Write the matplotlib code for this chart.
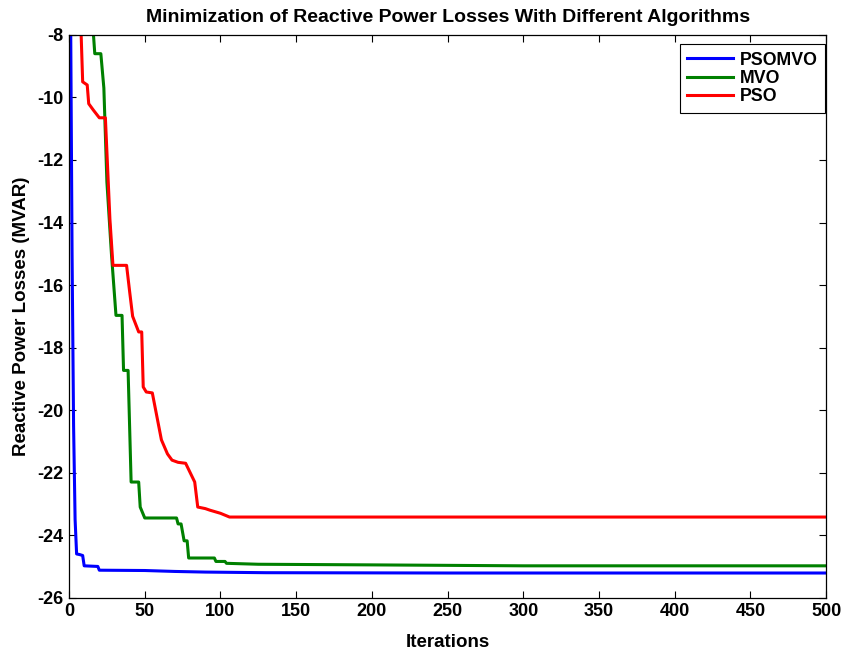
import numpy as np
import matplotlib
matplotlib.use("Agg")
import matplotlib.pyplot as plt

plt.rcParams['font.family'] = ['Liberation Sans', 'DejaVu Sans']
plt.rcParams['font.weight'] = 'bold'
plt.rcParams['axes.unicode_minus'] = False

# iteration / loss pairs
pso_mvo_it = [0, 1, 2, 3, 4, 5, 7, 9, 10, 19, 20, 50, 70, 90, 130, 250, 500]
pso_mvo = [-2, -7, -15, -20.5, -23.5, -24.6, -24.62, -24.65, -24.98, -25.0,
           -25.12, -25.13, -25.16, -25.18, -25.2, -25.21, -25.21]

mvo_it = [0, 10, 16, 17, 21, 23, 25, 28, 31, 35, 36, 39, 41, 46, 47, 50, 71, 72,
          74, 76, 78, 79, 96, 97, 103, 104, 125, 200, 300, 500]
mvo = [-3, -6, -7.9, -8.6, -8.6, -9.7, -12.7, -15.0, -16.97, -16.97, -18.73,
       -18.73, -22.3, -22.3, -23.1, -23.45, -23.45, -23.64, -23.64, -24.18,
       -24.18, -24.73, -24.73, -24.84, -24.84, -24.9, -24.93, -24.95, -24.98, -24.98]

pso_it = [0, 5, 8, 9, 12, 13, 16, 20, 24, 27, 29, 38, 40, 42, 46, 48, 49, 51, 55,
          58, 61, 65, 68, 72, 77, 80, 83, 85, 90, 93, 100, 106, 500]
pso = [-2, -6, -8, -9.5, -9.6, -10.2, -10.4, -10.65, -10.65, -13.9, -15.37,
       -15.37, -16.2, -17.0, -17.5, -17.5, -19.26, -19.42, -19.45, -20.2, -20.95,
       -21.4, -21.6, -21.67, -21.7, -22.0, -22.3, -23.1, -23.15, -23.2, -23.3,
       -23.42, -23.42]

fig = plt.figure(figsize=(8.44, 6.59), dpi=100)
ax = fig.add_axes([0.0818, 0.093, 0.897, 0.854])

ax.plot(pso_mvo_it, pso_mvo, color=(0, 0, 1), lw=2.2, label='PSOMVO')
ax.plot(mvo_it, mvo, color=(0, 0.5, 0), lw=2.2, label='MVO')
ax.plot(pso_it, pso, color=(1, 0, 0), lw=2.2, label='PSO')

ax.set_xlim(0, 500)
ax.set_ylim(-26, -8)
ax.set_xticks(np.arange(0, 501, 50))
ax.set_yticks(np.arange(-26, -7, 2))
ax.tick_params(direction='in', length=5, width=0.8, top=True, right=True,
               labelsize=13)
ax.tick_params(axis='x', pad=4)
ax.tick_params(axis='y', pad=4)
for s in ax.spines.values():
    s.set_linewidth(0.9)

ax.set_title('Minimization of Reactive Power Losses With Different Algorithms',
             fontsize=14, fontweight='bold', pad=9)
ax.set_xlabel('Iterations', fontsize=13.5, fontweight='bold', labelpad=10)
ax.set_ylabel('Reactive Power Losses (MVAR)', fontsize=13.5, fontweight='bold', labelpad=5)

leg = ax.legend(loc='upper right', bbox_to_anchor=(0.999, 0.983), fancybox=False,
                framealpha=1, edgecolor='black', fontsize=12.8, handlelength=2.6,
                handletextpad=0.4, labelspacing=0.08, borderaxespad=0,
                borderpad=0.4)
leg.get_frame().set_linewidth(0.8)

fig.savefig('out.png', dpi=100)
